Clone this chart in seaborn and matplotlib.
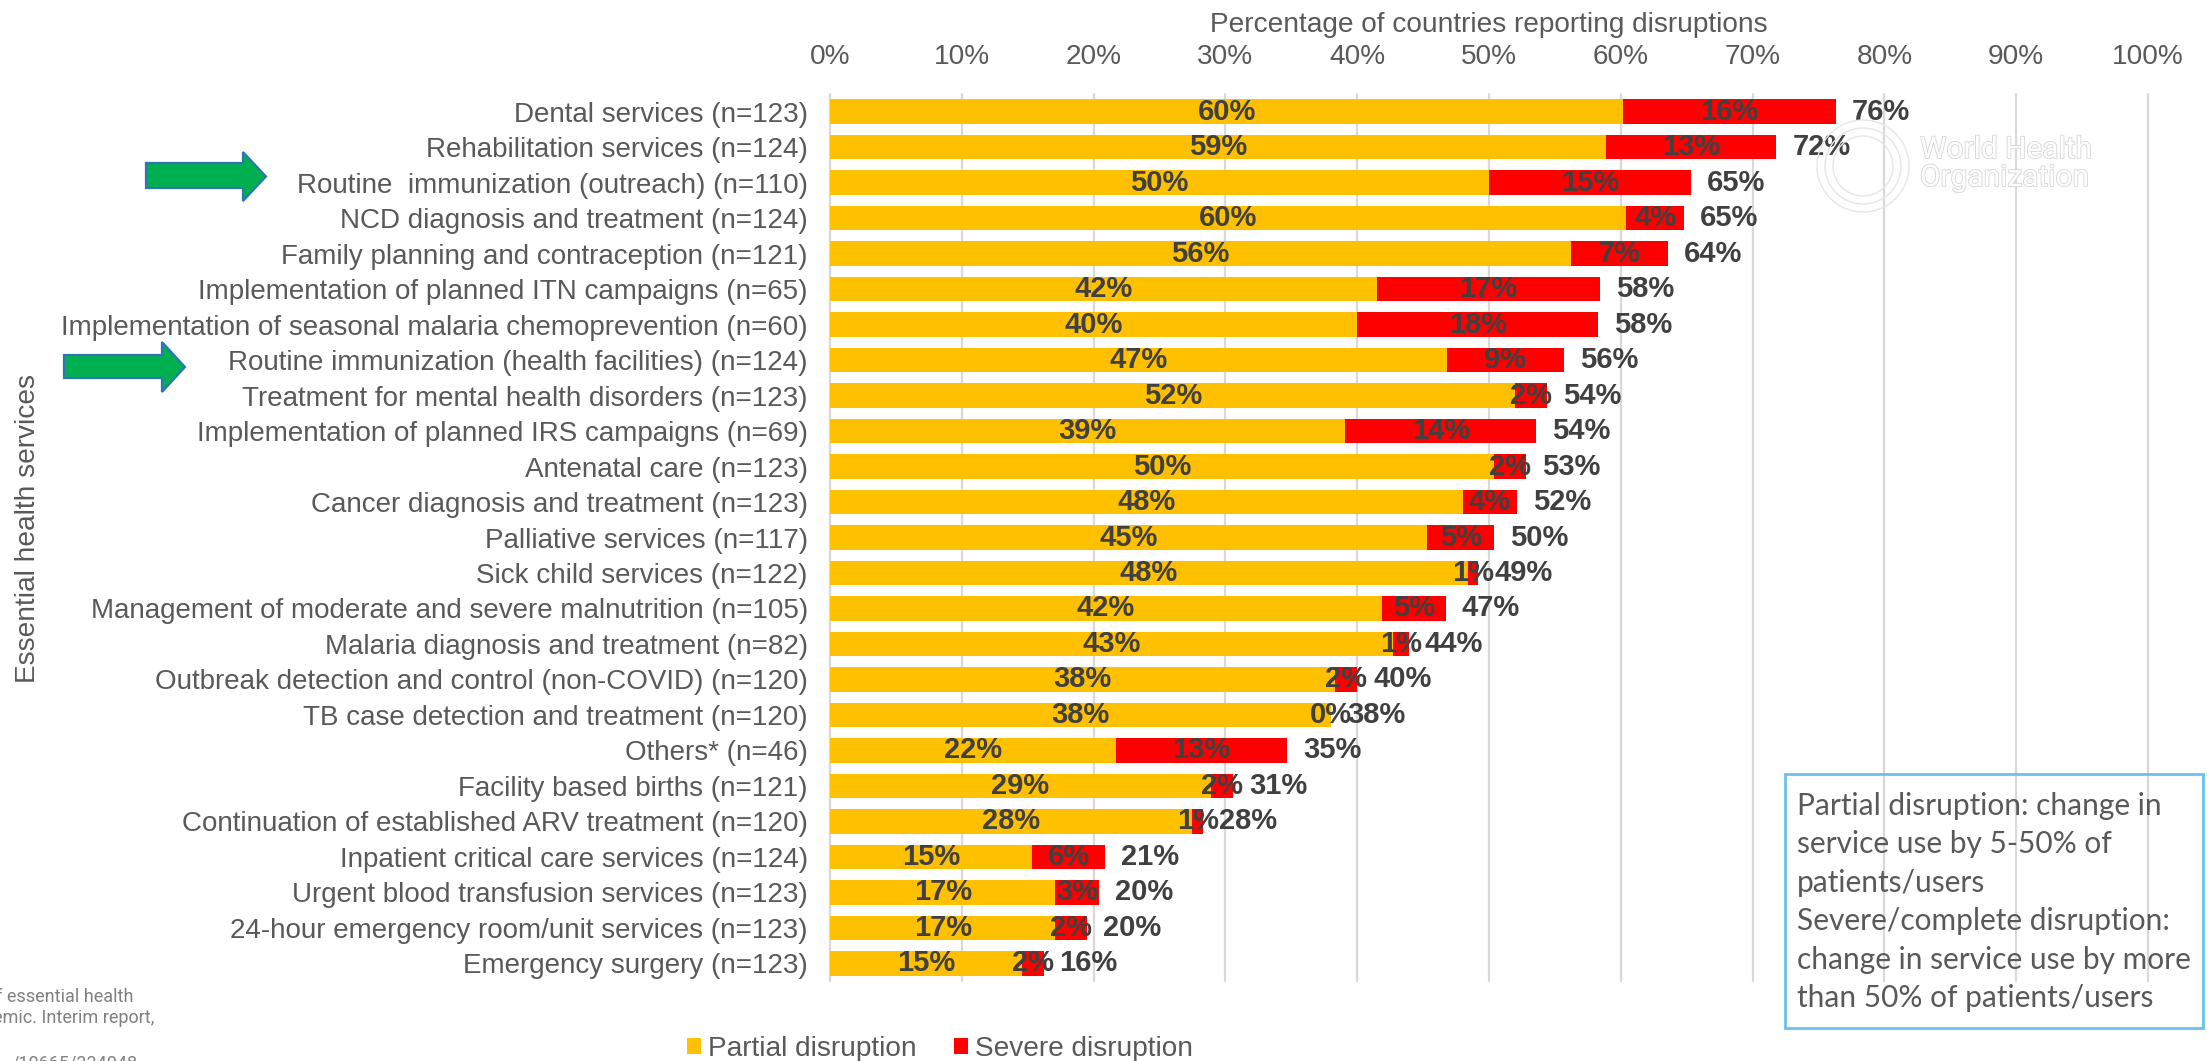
import matplotlib
matplotlib.use("Agg")
import matplotlib.pyplot as plt
import matplotlib.patheffects as pe
from matplotlib.patches import Polygon, Rectangle, Patch, Circle
import seaborn as sns
import pandas as pd

# ---------------- data ----------------
categories = [
    "Dental services (n=123)",
    "Rehabilitation services (n=124)",
    "Routine  immunization (outreach) (n=110)",
    "NCD diagnosis and treatment (n=124)",
    "Family planning and contraception (n=121)",
    "Implementation of planned ITN campaigns (n=65)",
    "Implementation of seasonal malaria chemoprevention (n=60)",
    "Routine immunization (health facilities) (n=124)",
    "Treatment for mental health disorders (n=123)",
    "Implementation of planned IRS campaigns (n=69)",
    "Antenatal care (n=123)",
    "Cancer diagnosis and treatment (n=123)",
    "Palliative services (n=117)",
    "Sick child services (n=122)",
    "Management of moderate and severe malnutrition (n=105)",
    "Malaria diagnosis and treatment (n=82)",
    "Outbreak detection and control (non-COVID) (n=120)",
    "TB case detection and treatment (n=120)",
    "Others* (n=46)",
    "Facility based births (n=121)",
    "Continuation of established ARV treatment (n=120)",
    "Inpatient critical care services (n=124)",
    "Urgent blood transfusion services (n=123)",
    "24-hour emergency room/unit services (n=123)",
    "Emergency surgery (n=123)",
]
partial = [60.2, 58.9, 50.0, 60.4, 56.2, 41.5, 40.0, 46.8, 52.0, 39.1, 50.4, 48.0, 45.3,
           48.4, 41.9, 42.7, 38.3, 38.0, 21.7, 28.9, 27.5, 15.3, 17.1, 17.1, 14.6]
severe = [16.1, 12.9, 15.3, 4.4, 7.4, 16.9, 18.3, 8.9, 2.4, 14.5, 2.4, 4.1, 5.1,
          0.8, 4.8, 1.2, 1.7, 0.0, 13.0, 1.7, 0.8, 5.6, 3.3, 2.4, 1.6]
partial_lbl = [60, 59, 50, 60, 56, 42, 40, 47, 52, 39, 50, 48, 45, 48, 42, 43, 38, 38, 22, 29, 28, 15, 17, 17, 15]
severe_lbl = [16, 13, 15, 4, 7, 17, 18, 9, 2, 14, 2, 4, 5, 1, 5, 1, 2, 0, 13, 2, 1, 6, 3, 2, 2]
total_lbl = [76, 72, 65, 65, 64, 58, 58, 56, 54, 54, 53, 52, 50, 49, 47, 44, 40, 38, 35, 31, 28, 21, 20, 20, 16]
xticks = [0, 10, 20, 30, 40, 50, 60, 70, 80, 90, 100]
xtick_labels = [f"{t}%" for t in xticks]
series_names = ["Partial disruption", "Severe disruption"]

df = pd.DataFrame({"service": categories, "partial": partial, "severe": severe})
df["total"] = df["partial"] + df["severe"]

# ---------------- style ----------------
sns.set_theme(style="white")
plt.rcParams["font.family"] = ["Liberation Sans", "DejaVu Sans"]

W, H = 2207, 1061
fig = plt.figure(figsize=(W / 100, H / 100), dpi=100)
ax = fig.add_axes([830 / W, 1 - 981 / H, 1318 / W, (981 - 94) / H])

YELLOW = "#FFC000"
RED = "#FF0000"
GRAY = "#595959"
DARK = "#404040"
FS = 20.2

sns.barplot(data=df, y="service", x="total", order=categories, color=RED,
            orient="h", width=0.69, saturation=1, ax=ax, linewidth=0)
sns.barplot(data=df, y="service", x="partial", order=categories, color=YELLOW,
            orient="h", width=0.69, saturation=1, ax=ax, linewidth=0)

ax.set_xlim(0, 100)
ax.set_ylim(len(categories) - 0.5, -0.5)
ax.set_xticks(xticks)
ax.set_xticklabels(xtick_labels)
ax.xaxis.tick_top()
ax.tick_params(axis="x", length=0, pad=17, labelsize=FS, labelcolor=GRAY)
ax.tick_params(axis="y", length=0, pad=16, labelsize=19.95, labelcolor=GRAY)
ax.set_xlabel("")
ax.set_ylabel("")
for s in ax.spines.values():
    s.set_visible(False)
ax.grid(axis="x", color="#D9D9D9", linewidth=1.6)
ax.grid(axis="y", visible=False)
ax.set_axisbelow(True)
for gl in ax.get_xgridlines():
    gl.set_clip_on(False)

# data labels
LFS = 21
for i in range(len(categories)):
    ax.text(partial[i] / 2, i, f"{partial_lbl[i]}%", ha="center", va="center",
            fontsize=LFS, fontweight="bold", color=DARK)
    ax.text(partial[i] + severe[i] / 2, i, f"{severe_lbl[i]}%", ha="center", va="center",
            fontsize=LFS, fontweight="bold", color=DARK)
    ax.annotate(f"{total_lbl[i]}%", xy=(partial[i] + severe[i], i), xytext=(11.5, 0),
                textcoords="offset points", ha="left", va="center",
                fontsize=LFS, fontweight="bold", color=DARK)

# titles
fig.text(1489 / W, 1 - 25 / H, "Percentage of countries reporting disruptions",
         ha="center", va="center", fontsize=FS, color=GRAY)
fig.text(28 / W, 1 - 528 / H, "Essential health services", rotation=90,
         ha="center", va="center", fontsize=FS, color=GRAY)

# legend
handles = [Patch(facecolor=YELLOW, edgecolor="none"), Patch(facecolor=RED, edgecolor="none")]
fig.legend(handles, series_names, loc="center", bbox_to_anchor=(940 / W, 1 - 1049 / H),
           ncol=2, frameon=False, fontsize=FS, labelcolor=GRAY,
           handlelength=0.52, handleheight=0.52, handletextpad=0.26, columnspacing=1.3)


def px(x, y):
    return (x / W, 1 - y / H)


# green arrows
for (bx0, bx1, tip, by0, by1, hy0, hy1) in [(146, 243, 266, 163, 188, 152, 201),
                                              (64, 162, 185, 355, 378, 342, 392)]:
    cy = (hy0 + hy1) / 2
    pts = [px(bx0, by0), px(bx1, by0), px(bx1, hy0), px(tip, cy),
           px(bx1, hy1), px(bx1, by1), px(bx0, by1)]
    fig.add_artist(Polygon(pts, closed=True, facecolor="#00B050", edgecolor="#2E75B6",
                           linewidth=1.6, transform=fig.transFigure))

# definitions box
fig.add_artist(Rectangle(px(1785, 1028), (2203 - 1785) / W, (1028 - 774) / H, fill=False,
                         edgecolor="#69C3EE", linewidth=2, transform=fig.transFigure))
box_lines = ["Partial disruption: change in", "service use by 5-50% of", "patients/users",
             "Severe/complete disruption:", "change in service use by more",
             "than 50% of patients/users"]
for k, line in enumerate(box_lines):
    fig.text(1797 / W, 1 - (806 + 38.4 * k) / H, line, ha="left", va="center",
             fontsize=21.5, color=GRAY, family=["Lato", "DejaVu Sans"])

# WHO watermark
wm = fig.text(1920 / W, 1 - 164 / H, "World Health\nOrganization", ha="left", va="center",
              fontsize=21.5, color="white", linespacing=1.0,
              family=["Roboto", "DejaVu Sans"])
wm.set_path_effects([pe.Stroke(linewidth=1.3, foreground="#D8D8D8"), pe.Normal()])
for r in (0.46, 0.38, 0.30):
    fig.add_artist(Circle((18.63, (H - 166) / 100), r, transform=fig.dpi_scale_trans,
                          fill=False, edgecolor="#E6E6E6", linewidth=1))

# clipped source note at bottom left
note = [("of essential health", 134, 997), ("emic. Interim report,", 154, 1018),
        ("/10665/334048", 138, 1064)]
for txt, xr, yc in note:
    fig.text(xr / W, 1 - yc / H, txt, ha="right", va="center", fontsize=13,
             color="#808080", family=["Roboto", "DejaVu Sans"])

fig.savefig("out.png", dpi=100)
